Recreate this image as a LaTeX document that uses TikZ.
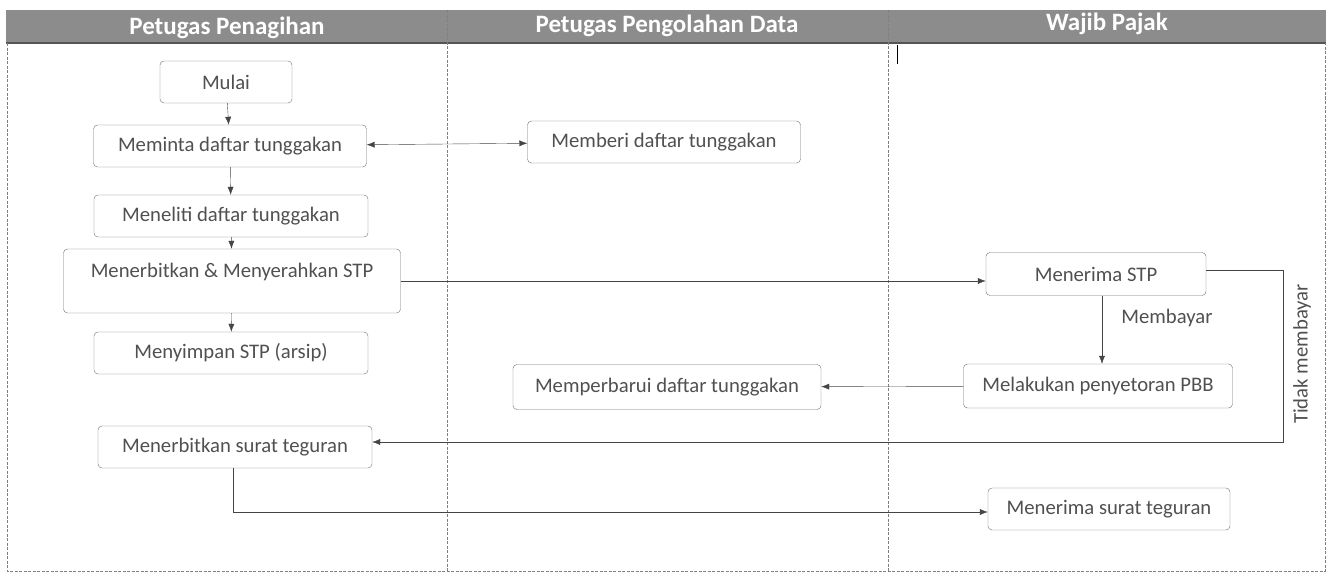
\documentclass[tikz,border=0pt]{standalone}
\usepackage{fontspec}
\setmainfont{Carlito}
\usetikzlibrary{arrows.meta}
\definecolor{boxline}{HTML}{707070}
\definecolor{boxtext}{HTML}{505050}
\definecolor{headfill}{HTML}{8C8C8C}
\definecolor{headedge}{HTML}{555555}
\definecolor{flowline}{HTML}{454545}
\begin{document}
\begin{tikzpicture}[
        x = 1pt, y = -1pt,
        box/.style = {draw = boxline, rounded corners = 4pt, inner sep = 0,
            minimum height = 42pt, text = boxtext, font = \fontsize{20.7}{24}\selectfont},
        flow/.style = {draw = flowline, -{Latex[length = 8pt, width = 6pt]}},
        lane/.style = {draw = gray, dash pattern = on 3pt off 1.5pt},
        headtext/.style = {text = white, font = \fontsize{25}{30}\selectfont\bfseries}
    ]
        \useasboundingbox (0, 0) rectangle (1328, 573);

        % lanes
        \fill[headfill] (6, 10) rectangle (1326, 43);
        \draw[headedge, line width = 1.5pt] (6, 43) -- (1326, 43);
        \draw[lane] (7, 43) -- (7, 571) -- (1325, 571) -- (1325, 43);
        \foreach \xlane in {447, 888} {
            \draw[lane] (\xlane, 10) -- (\xlane, 571);
        }
        \node[headtext] (hpenagihan) at (227, 28) {Petugas Penagihan};
        \node[headtext] (hpengolahan) at (667, 26) {Petugas Pengolahan Data};
        \node[headtext] (hwajib) at (1107, 24) {Wajib Pajak};
        \draw[black, line width = 1pt] (897, 45) -- (897, 64);

        % Petugas Penagihan
        \node[box, minimum width = 132pt] (mulai) at (226, 82) {Mulai};
        \node[box, minimum width = 273pt] (meminta) at (230, 146) {Meminta daftar tunggakan};
        \node[box, minimum width = 274pt] (meneliti) at (231, 216) {Meneliti daftar tunggakan};
        \node[box, minimum width = 337pt, minimum height = 64pt,
            text height = 14pt, text depth = 22pt] (terbitstp) at (232, 281)
            {Menerbitkan \& Menyerahkan STP};
        \node[box, minimum width = 274pt] (simpan) at (231, 353) {Menyimpan STP (arsip)};
        \node[box, minimum width = 274pt] (teguran) at (235, 447) {Menerbitkan surat teguran};

        % Petugas Pengolahan Data
        \node[box, minimum width = 273pt] (memberi) at (664, 142) {Memberi daftar tunggakan};
        \node[box, minimum width = 308pt, minimum height = 45pt] (perbarui) at (667, 387)
            {Memperbarui daftar tunggakan};

        % Wajib Pajak
        \node[box, minimum width = 220pt, minimum height = 43pt] (terimastp) at (1096, 274) {Menerima STP};
        \node[box, minimum width = 269pt, minimum height = 44pt] (setor) at (1098, 386)
            {Melakukan penyetoran PBB};
        \node[box, minimum width = 242pt] (terimateguran) at (1109, 509) {Menerima surat teguran};

        % connectors
        \draw[flow] (mulai) -- (meminta);
        \draw[flow, {Latex[length = 8pt, width = 6pt]}-{Latex[length = 8pt, width = 6pt]}] (meminta) -- (memberi);
        \draw[flow] (meminta) -- (meneliti);
        \draw[flow] (meneliti) -- (terbitstp);
        \draw[flow] (terbitstp) -- (simpan);
        \draw[flow] (terbitstp.east) -- (terbitstp.east -| terimastp.west);
        \draw[flow] (terimastp.south -| 1102, 0) -- (setor.north -| 1102, 0);
        \node[text = boxtext, font = \fontsize{20.7}{24}\selectfont] (membayar) at (1167, 318) {Membayar};
        \draw[flow] (setor) -- (perbarui);
        \coordinate (tidakturn) at (1283, 270);
        \draw[flow] (terimastp.east |- tidakturn) -- (tidakturn) -- (1283, 442) -- (teguran.east |- 0, 442);
        \node[rotate = 90, text = boxtext, font = \fontsize{20.7}{24}\selectfont] (tidak) at (1302, 354) {Tidak membayar};
        \draw[flow] (teguran.south -| 233, 0) -- (233, 512) -- (terimateguran.west |- 0, 512);
    \end{tikzpicture}
\end{document}
